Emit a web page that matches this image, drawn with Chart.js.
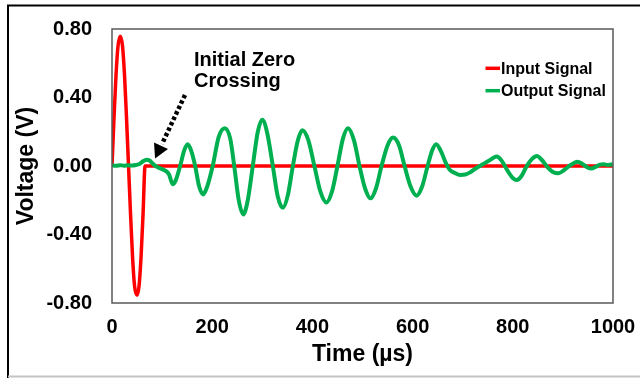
<!DOCTYPE html>
<html>
<head>
<meta charset="utf-8">
<title>Input and Output Signal</title>
<script src="https://cdn.jsdelivr.net/npm/chart.js@4/dist/chart.umd.min.js"></script>
<style>
    body { margin: 0; background: #fff; }
    #wrap { position: relative; width: 640px; height: 378px; }
</style>
</head>
<body>
<div id="wrap"><canvas id="myChart"></canvas></div>
<script>
// input pulse, time in µs and voltage in V
var inputTime = [0, 4, 8, 12, 16.5, 21, 25, 29, 33, 37, 41, 45, 50, 54, 58, 62, 66, 1000]
var inputVolt = [0, 0.28, 0.53, 0.70, 0.757, 0.70, 0.53, 0.28, 0, -0.28, -0.53, -0.70, -0.755, -0.70, -0.53, -0.28, 0, 0]

// received signal
var outputTime = [0, 8, 16, 24, 32, 40, 48, 55, 62, 69, 75, 80, 85, 92, 100, 108, 114, 121, 127,
    136, 144, 151, 158, 166, 174, 182, 190, 201, 213, 225, 236, 244, 253, 262, 271,
    281, 291, 300, 310, 321, 331, 341, 351, 361, 371, 380, 392, 404, 416, 428, 439,
    450, 461, 471, 483, 494, 505, 516, 527, 538, 550, 561, 573, 584, 596, 608, 619,
    630, 639, 647, 656, 666, 675, 684, 695, 705, 716, 728, 740, 752, 768, 778, 790,
    800, 808, 817, 828, 838, 848, 858, 870, 880, 891, 902, 915, 929, 940, 950, 957,
    965, 974, 981, 990, 1000]
var outputVolt = [0.004, 0.001, 0.005, 0.002, 0.004, 0.003, 0.006, 0.012, 0.028, 0.037, 0.032, 0.018, 0.004, -0.008, -0.018, -0.03, -0.05, -0.106, -0.085,
    0, 0.09, 0.127, 0.09, 0, -0.12, -0.166, -0.12, 0, 0.17, 0.221, 0.16, 0, -0.2, -0.283, -0.2,
    0, 0.2, 0.27, 0.19, 0, -0.18, -0.244, -0.17, 0, 0.15, 0.209, 0.15, 0, -0.15, -0.213, -0.15,
    0, 0.16, 0.221, 0.15, 0, -0.13, -0.189, -0.13, 0, 0.12, 0.166, 0.12, 0, -0.12, -0.173, -0.12,
    0, 0.09, 0.127, 0.09, 0.02, -0.025, -0.04, -0.052, -0.05, -0.035, -0.01, 0.01, 0.03, 0.055, 0.03, -0.03,
    -0.07, -0.082, -0.06, 0, 0.04, 0.058, 0.035, -0.01, -0.035, -0.043, -0.025, 0.005, 0.025, 0.01, -0.01, -0.014,
    -0.005, 0.008, 0.01, 0.006, 0.01]

var xTicks = [0, 200, 400, 600, 800, 1000]
var yTicks = [-0.8, -0.4, 0, 0.4, 0.8]
var seriesNames = ['Input Signal', 'Output Signal']
var seriesColors = ['#ff0000', '#00b050']

var FONT = "'Liberation Sans', Arial, sans-serif"

function toPoints(xs, ys) {
    return xs.map(function(x, i) { return {x: x, y: ys[i]} })
}

// frame, plot box, annotation arrow and legend
var extras = {
    id: 'extras',
    beforeDraw: function(chart) {
        var ctx = chart.ctx
        ctx.save()
        ctx.fillStyle = '#fff'
        ctx.fillRect(0, 0, chart.width, chart.height)
        ctx.strokeStyle = '#000'
        ctx.lineWidth = 2
        ctx.beginPath()
        ctx.moveTo(8, 378)
        ctx.lineTo(8, 5.5)
        ctx.lineTo(640, 5.5)
        ctx.stroke()
        ctx.strokeStyle = '#c4c4c4'
        ctx.beginPath()
        ctx.moveTo(8, 376.5)
        ctx.lineTo(640, 376.5)
        ctx.stroke()
        ctx.restore()
    },
    afterDraw: function(chart) {
        var ctx = chart.ctx
        var a = chart.chartArea
        ctx.save()
        ctx.strokeStyle = '#595959'
        ctx.lineWidth = 1.5
        ctx.strokeRect(a.left, a.top, a.right - a.left, a.bottom - a.top)

        ctx.fillStyle = '#000'
        ctx.font = 'bold 20px ' + FONT
        ctx.textBaseline = 'alphabetic'
        ctx.textAlign = 'left'
        ctx.fillText('Initial Zero', 194, 66)
        ctx.fillText('Crossing', 194, 87)

        // dotted arrow
        ctx.strokeStyle = '#000'
        ctx.lineWidth = 4.5
        ctx.setLineDash([3.5, 2.5])
        ctx.beginPath()
        ctx.moveTo(185, 95)
        ctx.lineTo(162, 144)
        ctx.stroke()
        ctx.setLineDash([])
        ctx.beginPath()
        ctx.moveTo(155, 158.5)
        ctx.lineTo(168, 149)
        ctx.lineTo(154, 142.4)
        ctx.closePath()
        ctx.fill()

        // legend
        ctx.font = 'bold 16px ' + FONT
        var rows = [68.3, 90.7]
        for (var i = 0; i < seriesNames.length; i++) {
            ctx.strokeStyle = seriesColors[i]
            ctx.lineWidth = 3.5
            ctx.beginPath()
            ctx.moveTo(485.5, rows[i])
            ctx.lineTo(500, rows[i])
            ctx.stroke()
            ctx.fillStyle = '#000'
            ctx.fillText(seriesNames[i], 501, rows[i] + 5.2)
        }
        ctx.restore()
    }
}

var ctx = document.getElementById('myChart')
var myChart = new Chart(ctx, {
    type: 'line',
    data: {
        datasets: [{
            label: seriesNames[0],
            data: toPoints(inputTime, inputVolt),
            borderColor: seriesColors[0],
            borderWidth: 3.5,
            cubicInterpolationMode: 'monotone',
            pointRadius: 0,
            order: 1
        }, {
            label: seriesNames[1],
            data: toPoints(outputTime, outputVolt),
            borderColor: seriesColors[1],
            borderWidth: 4,
            cubicInterpolationMode: 'monotone',
            pointRadius: 0,
            order: 0
        }]
    },
    options: {
        responsive: true,
        maintainAspectRatio: false,
        animation: false,
        layout: { padding: { left: 8, top: 29, right: 27, bottom: 3 } },
        plugins: {
            legend: { display: false },
            tooltip: { enabled: false }
        },
        scales: {
            x: {
                type: 'linear',
                min: 0,
                max: 1000,
                grid: { display: false, drawTicks: false },
                border: { display: false },
                afterBuildTicks: function(s) { s.ticks = xTicks.map(function(v) { return {value: v} }) },
                afterFit: function(s) {
                    s.height = 72
                    s.paddingLeft = 0
                    s.paddingRight = 0
                },
                ticks: {
                    color: '#000',
                    padding: 12,
                    maxRotation: 0,
                    font: { family: FONT, size: 20, weight: 'bold' },
                    callback: function(v) { return String(v) }
                },
                title: {
                    display: true,
                    text: 'Time (µs)',
                    color: '#000',
                    padding: { top: 0, bottom: 7 },
                    font: { family: FONT, size: 23, weight: 'bold' }
                }
            },
            y: {
                min: -0.8,
                max: 0.8,
                grid: { display: false, drawTicks: false },
                border: { display: false },
                afterBuildTicks: function(s) { s.ticks = yTicks.map(function(v) { return {value: v} }) },
                afterFit: function(s) {
                    s.width = 104
                    s.paddingTop = 0
                    s.paddingBottom = 0
                },
                ticks: {
                    color: '#000',
                    padding: 20,
                    font: { family: FONT, size: 20, weight: 'bold' },
                    callback: function(v) { return (Math.abs(v) < 1e-9 ? 0 : v).toFixed(2) }
                },
                title: {
                    display: true,
                    text: 'Voltage (V)',
                    color: '#000',
                    padding: { top: 5, bottom: 0 },
                    font: { family: FONT, size: 23, weight: 'bold' }
                }
            }
        }
    },
    plugins: [extras]
})
</script>
</body>
</html>
